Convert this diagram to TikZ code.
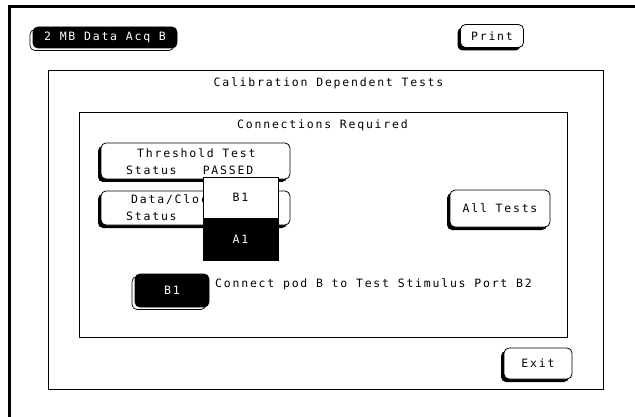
\documentclass[tikz,border=0pt]{standalone}
\usepackage{fontspec}
\newfontfamily\hpfont[LetterSpace=15.5]{DejaVu Sans Mono}
\usetikzlibrary{positioning,shadows}

\begin{document}
\begin{tikzpicture}[x=1pt,y=-1pt,
    every node/.style={font=\hpfont\fontsize{11.5}{14}\selectfont,inner sep=0pt},
    panel/.style={draw,line width=0.9pt},
    softkey/.style={draw,fill=white,line width=0.8pt,rounded corners=5pt,
      drop shadow={shadow xshift=-3pt,shadow yshift=-3pt,fill=black,opacity=1}},
    darkkey/.style={draw,fill=black,text=white,line width=0.8pt,rounded corners=5pt,
      drop shadow={shadow xshift=-3pt,shadow yshift=-2.5pt,fill=white,draw=black,
        line width=0.7pt,opacity=1}},
    popbox/.style={draw,line width=0.8pt,minimum width=75pt}]
%
  \useasboundingbox (0,0) rectangle (635,417) ;
  \fill [white] (0,0) rectangle (635,417) ;
%
  \draw [line width=3pt] (9.5,417) -- (9.5,6.5) -- (635,6.5) ;
%
  \node [panel,minimum width=555pt,minimum height=319pt] (calib) at (325.5,229.5) {} ;
  \node [anchor=base] (calibT) at (328.5,87) {Calibration Dependent Tests} ;
%
  \node [panel,minimum width=488pt,minimum height=225pt] (conn) at (323,224.5) {} ;
  \node [anchor=base] (connT) at (322.5,129) {Connections Required} ;
%
  \node [darkkey,minimum width=144pt,minimum height=21pt] (acq) at (105,37.5) {2 MB Data Acq B} ;
  \node [softkey,minimum width=63pt,minimum height=23pt] (print) at (492,36) {Print} ;
%
  \node [softkey,minimum width=189pt,minimum height=36pt] (thr) at (195.5,161) {} ;
  \node [anchor=base west] (thrA) at (137,158) {Threshold Test} ;
  \node [anchor=base west] (thrB) at (126,175) {Status\ \ \ PASSED} ;
%
  \node [softkey,minimum width=189pt,minimum height=34pt] (dat) at (195.5,208) {} ;
  \node [anchor=base west] (datA) at (131,204) {Data/Cloc} ;
  \node [anchor=base west] (datB) at (126,221) {Status} ;
%
  \node [softkey,minimum width=100pt,minimum height=37pt] (all) at (500,208.5) {All Tests} ;
%
  \node [popbox,fill=white,minimum height=41pt] (popB) at (240.5,197.5) {B1} ;
  \node [popbox,fill=black,text=white,minimum height=42pt,below=0pt of popB] (popA) {A1} ;
%
  \node [darkkey,minimum width=74pt,minimum height=33pt] (bone) at (172,290.5) {B1} ;
  \node [anchor=base west] (msg) at (215,287) {Connect pod B to Test Stimulus Port B2} ;
%
  \node [softkey,minimum width=68pt,minimum height=31pt] (exit) at (538,363.5) {Exit} ;
%
\end{tikzpicture}
\end{document}
